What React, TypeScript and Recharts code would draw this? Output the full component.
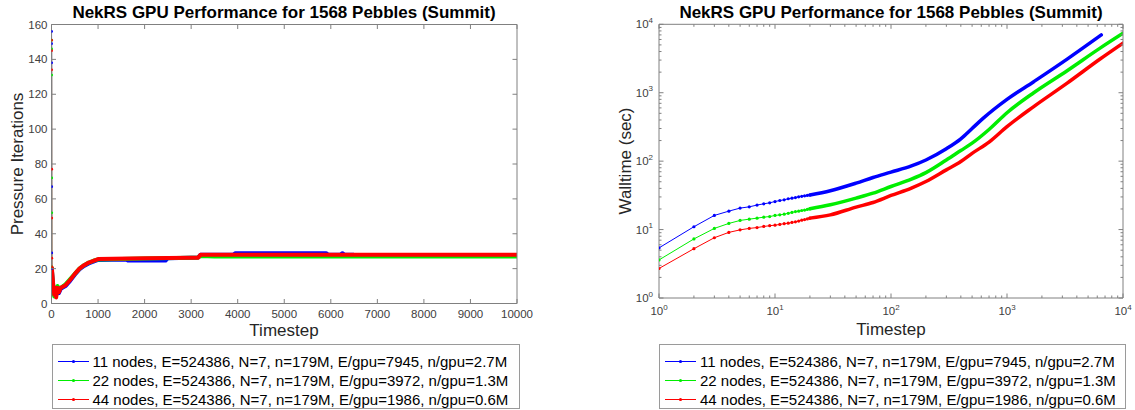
import React from "react";
import { LineChart, Line, XAxis, YAxis } from "recharts";

const FONT = "'Liberation Sans', Arial, Helvetica, sans-serif";
const AXIS = "#808080";
const TICK_TEXT = "#404040";
const BLUE = "#0000ff";
const GREEN = "#00ee00";
const RED = "#ff0000";

const TITLE = "NekRS GPU Performance for 1568 Pebbles (Summit)";
const LEGEND_LABELS = [
  "11 nodes, E=524386, N=7, n=179M, E/gpu=7945, n/gpu=2.7M",
  "22 nodes, E=524386, N=7, n=179M, E/gpu=3972, n/gpu=1.3M",
  "44 nodes, E=524386, N=7, n=179M, E/gpu=1986, n/gpu=0.6M",
];
const SERIES_COLORS = [BLUE, GREEN, RED];

// ---- left panel: pressure iterations per timestep ----
const ITER_X_TICKS = [0, 1000, 2000, 3000, 4000, 5000, 6000, 7000, 8000, 9000, 10000];
const ITER_Y_TICKS = [0, 20, 40, 60, 80, 100, 120, 140, 160];

// first few timesteps form the thin spike at x=0, the rest is the dense band
const ITER_STEP_11 = [1, 2, 3, 4, 5, 6, 20, 40, 60, 80, 100, 130, 160, 200, 300, 400, 500, 600, 700, 800, 900, 1000, 1600, 1650, 2450, 2500, 3000, 3150, 3200, 3900, 3950, 5900, 5950, 6200, 6250, 6300, 6500];
const ITER_11 = [156, 149, 138, 67, 29, 20, 15, 9, 5, 8, 4.5, 8, 6, 8.5, 10, 13, 16.5, 19.5, 21.5, 23, 24, 25, 25.3, 24.6, 24.6, 26, 26.3, 26.4, 27.9, 27.9, 28.8, 28.8, 27.9, 27.9, 28.8, 27.9, 27.9];
const ITER_SPIKE_11 = 6;

const ITER_STEP_22 = [1, 2, 3, 4, 5, 6, 20, 40, 60, 80, 100, 130, 160, 200, 300, 400, 500, 600, 700, 800, 900, 1000, 2000, 3000, 3150, 3200, 3500, 10000];
const ITER_22 = [151, 146, 131, 72, 52, 21, 14, 8, 4, 9, 5, 10, 8, 9, 11, 14, 17, 20, 22, 23.5, 24.5, 25.3, 25.8, 26.3, 26.4, 27.2, 27.0, 27.0];
const ITER_SPIKE_22 = 6;

const ITER_STEP_44 = [1, 2, 3, 4, 5, 6, 7, 20, 40, 60, 80, 100, 130, 160, 200, 300, 400, 500, 600, 700, 800, 900, 1000, 2000, 3000, 3150, 3200, 10000];
const ITER_44 = [151, 145, 134, 77, 49, 26, 21, 16, 10, 5, 9, 3.5, 9, 6.5, 9, 10.5, 13.5, 17, 20, 22, 23.5, 24.5, 25.5, 25.9, 26.2, 26.3, 27.9, 27.9];
const ITER_SPIKE_44 = 7;

// ---- right panel: cumulative walltime (log-log) ----
const LOG_TICKS = [1, 2, 3, 4, 5, 6, 7, 8, 9, 10, 20, 30, 40, 50, 60, 70, 80, 90, 100, 200, 300, 400, 500, 600, 700, 800, 900, 1000, 2000, 3000, 4000, 5000, 6000, 7000, 8000, 9000, 10000];
const LOG_MAJOR = [1, 10, 100, 1000, 10000];

const WALL_STEP_SPARSE = [1, 2, 3, 4, 5, 6, 7, 8, 9, 10, 11, 12, 13, 14, 15, 16, 17, 18, 19, 20];
const WALL_11_SPARSE = [5.4, 11.0, 16.1, 18.6, 20.6, 21.5, 22.8, 23.8, 24.6, 25.7, 26.6, 27.2, 28.2, 28.8, 29.4, 30.1, 30.6, 31.1, 31.6, 32];
const WALL_22_SPARSE = [3.6, 7.3, 10.4, 12.3, 13.6, 14.2, 14.7, 15.2, 15.5, 16.1, 16.4, 16.8, 17.3, 17.8, 18.3, 18.6, 19.0, 19.3, 19.7, 20.1];
const WALL_44_SPARSE = [2.7, 5.25, 7.6, 9.1, 9.9, 10.4, 10.7, 11.1, 11.4, 11.6, 11.9, 12.2, 12.4, 12.7, 13.0, 13.3, 13.7, 14.0, 14.3, 14.7];

const WALL_STEP_11_DENSE = [20, 30, 50, 70, 100, 150, 200, 300, 400, 500, 625, 1000, 1700, 3300, 6500];
const WALL_11_DENSE = [32, 37, 47.7, 57.6, 69, 85, 104, 152, 212, 300, 425, 800, 1450, 3100, 7000];
const WALL_STEP_DENSE = [20, 30, 50, 70, 100, 150, 200, 300, 400, 500, 700, 1000, 1700, 3300, 6300, 10000];
const WALL_22_DENSE = [20.1, 23, 28.8, 34, 42.6, 54.6, 68, 104, 143, 183, 290, 510, 1000, 2100, 4450, 7400];
const WALL_44_DENSE = [14.7, 16.4, 21.3, 24.9, 31.5, 40.4, 50.4, 74.6, 98.7, 130, 190, 320, 627, 1380, 3080, 5300];

const rows = (xs: number[], ys: number[]) => xs.map((x, i) => ({ x, y: ys[i] }));

type TickProps = { x?: number; y?: number; payload?: { value: number } };

const txt = { fontFamily: FONT, fontSize: 11.5, fill: TICK_TEXT };

function IterBottomTick({ x = 0, y = 0, payload }: TickProps) {
  return (
    <g>
      <line x1={x} x2={x} y1={y} y2={y - 4.5} stroke={AXIS} />
      <text x={x} y={y + 14} textAnchor="middle" {...txt}>{payload?.value}</text>
    </g>
  );
}

function IterLeftTick({ x = 0, y = 0, payload }: TickProps) {
  return (
    <g>
      <line x1={x} x2={x + 4.5} y1={y} y2={y} stroke={AXIS} />
      <text x={x - 4} y={y + 4} textAnchor="end" {...txt}>{payload?.value}</text>
    </g>
  );
}

function TopTick({ x = 0, y = 0 }: TickProps) {
  return <line x1={x} x2={x} y1={y} y2={y + 4.5} stroke={AXIS} />;
}

function RightTick({ x = 0, y = 0 }: TickProps) {
  return <line x1={x} x2={x - 4.5} y1={y} y2={y} stroke={AXIS} />;
}

function LogTopTick({ x = 0, y = 0, payload }: TickProps) {
  const len = LOG_MAJOR.includes(payload?.value ?? 0) ? 4.5 : 2.5;
  return <line x1={x} x2={x} y1={y} y2={y + len} stroke={AXIS} />;
}

function LogRightTick({ x = 0, y = 0, payload }: TickProps) {
  const len = LOG_MAJOR.includes(payload?.value ?? 0) ? 4.5 : 2.5;
  return <line x1={x} x2={x - len} y1={y} y2={y} stroke={AXIS} />;
}

function LogBottomTick({ x = 0, y = 0, payload }: TickProps) {
  const v = payload?.value ?? 1;
  const major = LOG_MAJOR.includes(v);
  return (
    <g>
      <line x1={x} x2={x} y1={y} y2={y - (major ? 4.5 : 2.5)} stroke={AXIS} />
      {major && (
        <text x={x} y={y + 17} textAnchor="middle" {...txt}>
          10<tspan dy={-5.5} fontSize={8}>{Math.round(Math.log10(v))}</tspan>
        </text>
      )}
    </g>
  );
}

function LogLeftTick({ x = 0, y = 0, payload }: TickProps) {
  const v = payload?.value ?? 1;
  const major = LOG_MAJOR.includes(v);
  return (
    <g>
      <line x1={x} x2={x + (major ? 4.5 : 2.5)} y1={y} y2={y} stroke={AXIS} />
      {major && (
        <text x={x - 6} y={y + 4} textAnchor="end" {...txt}>
          10<tspan dy={-5.5} fontSize={8}>{Math.round(Math.log10(v))}</tspan>
        </text>
      )}
    </g>
  );
}

function Legend({ left, width }: { left: number; width: number }) {
  return (
    <div
      style={{
        position: "absolute", left, top: 344, width, height: 63,
        border: "1px solid #9a9a9a", background: "#fff", fontFamily: FONT, fontSize: 15, color: "#000",
      }}
    >
      {LEGEND_LABELS.map((label, i) => (
        <div key={label} style={{ position: "absolute", left: 0, top: 7 + i * 19.2, height: 19, lineHeight: "19px", whiteSpace: "nowrap" }}>
          <svg width={40} height={19} style={{ position: "absolute", left: 0, top: 0 }}>
            <line x1={5} x2={36} y1={9.5} y2={9.5} stroke={SERIES_COLORS[i]} strokeWidth={1} />
            <circle cx={20.5} cy={9.5} r={1.6} fill={SERIES_COLORS[i]} />
          </svg>
          <span style={{ position: "absolute", left: 40 }}>{label}</span>
        </div>
      ))}
    </div>
  );
}

function Text({ x, y, size, bold, rotate, children }: { x: number; y: number; size: number; bold?: boolean; rotate?: boolean; children: React.ReactNode }) {
  return (
    <div
      style={{
        position: "absolute", left: x - 250, top: y - 12, width: 500, height: 24, lineHeight: "24px",
        textAlign: "center", fontFamily: FONT, fontSize: size, fontWeight: bold ? "bold" : "normal",
        color: bold ? "#000" : "#262626", whiteSpace: "nowrap",
        transform: rotate ? "rotate(-90deg)" : undefined,
      }}
    >
      {children}
    </div>
  );
}

// axes are 1px thick so that recharts still draws them; margins are reduced by that pixel
const axisCommon = { tickLine: false, axisLine: { stroke: AXIS }, interval: 0 as const, tickSize: 0, tickMargin: 0, allowDataOverflow: true };

function IterChart() {
  const series = [
    { steps: ITER_STEP_11, vals: ITER_11, cut: ITER_SPIKE_11, color: BLUE },
    { steps: ITER_STEP_22, vals: ITER_22, cut: ITER_SPIKE_22, color: GREEN },
    { steps: ITER_STEP_44, vals: ITER_44, cut: ITER_SPIKE_44, color: RED },
  ];
  return (
    <div style={{ position: "absolute", left: 0, top: 0 }}>
      <LineChart width={560} height={410} margin={{ top: 23.5, right: 42, bottom: 105.5, left: 50.5 }}>
        <XAxis xAxisId="b" type="number" dataKey="x" domain={[0, 10000]} ticks={ITER_X_TICKS} height={1} tick={IterBottomTick} {...axisCommon} />
        <XAxis xAxisId="t" orientation="top" type="number" dataKey="x" domain={[0, 10000]} ticks={ITER_X_TICKS} height={1} tick={TopTick} {...axisCommon} />
        <YAxis yAxisId="l" type="number" dataKey="y" domain={[0, 160]} ticks={ITER_Y_TICKS} width={1} tick={IterLeftTick} {...axisCommon} />
        <YAxis yAxisId="r" orientation="right" type="number" dataKey="y" domain={[0, 160]} ticks={ITER_Y_TICKS} width={1} tick={RightTick} {...axisCommon} />
        {series.map((s, i) => [
          <Line key={`s${i}`} xAxisId="b" yAxisId="l" data={rows(s.steps.slice(0, s.cut), s.vals.slice(0, s.cut))} dataKey="y"
            stroke={s.color} strokeWidth={1} dot={{ r: 1.4, fill: s.color, stroke: "none" }} isAnimationActive={false} />,
          <Line key={`b${i}`} xAxisId="b" yAxisId="l" data={rows(s.steps.slice(s.cut - 1), s.vals.slice(s.cut - 1))} dataKey="y"
            stroke={s.color} strokeWidth={4} strokeLinejoin="round" dot={false} isAnimationActive={false} />,
        ])}
      </LineChart>
    </div>
  );
}

function WallChart() {
  const series = [
    { sparse: WALL_11_SPARSE, dSteps: WALL_STEP_11_DENSE, dense: WALL_11_DENSE, color: BLUE },
    { sparse: WALL_22_SPARSE, dSteps: WALL_STEP_DENSE, dense: WALL_22_DENSE, color: GREEN },
    { sparse: WALL_44_SPARSE, dSteps: WALL_STEP_DENSE, dense: WALL_44_DENSE, color: RED },
  ];
  return (
    <div style={{ position: "absolute", left: 580, top: 0 }}>
      <LineChart width={555} height={410} margin={{ top: 23.3, right: 11, bottom: 111, left: 78 }}>
        <XAxis xAxisId="b" type="number" scale="log" dataKey="x" domain={[1, 10000]} ticks={LOG_TICKS} height={1} tick={LogBottomTick} {...axisCommon} />
        <XAxis xAxisId="t" orientation="top" type="number" scale="log" dataKey="x" domain={[1, 10000]} ticks={LOG_TICKS} height={1} tick={LogTopTick} {...axisCommon} />
        <YAxis yAxisId="l" type="number" scale="log" dataKey="y" domain={[1, 10000]} ticks={LOG_TICKS} width={1} tick={LogLeftTick} {...axisCommon} />
        <YAxis yAxisId="r" orientation="right" type="number" scale="log" dataKey="y" domain={[1, 10000]} ticks={LOG_TICKS} width={1} tick={LogRightTick} {...axisCommon} />
        {series.map((s, i) => [
          <Line key={`s${i}`} xAxisId="b" yAxisId="l" data={rows(WALL_STEP_SPARSE, s.sparse)} dataKey="y"
            stroke={s.color} strokeWidth={1} dot={{ r: 1.6, fill: s.color, stroke: "none" }} isAnimationActive={false} />,
          <Line key={`d${i}`} xAxisId="b" yAxisId="l" type="monotone" data={rows(s.dSteps, s.dense)} dataKey="y"
            stroke={s.color} strokeWidth={3.5} strokeLinecap="round" dot={false} isAnimationActive={false} />,
        ])}
      </LineChart>
    </div>
  );
}

export default function App() {
  return (
    <div style={{ position: "absolute", left: 0, top: 0, width: 1135, height: 410, background: "#fff", overflow: "hidden" }}>
      <IterChart />
      <WallChart />
      <Text x={284} y={12.5} size={17} bold>{TITLE}</Text>
      <Text x={891} y={12.5} size={17} bold>{TITLE}</Text>
      <Text x={17.5} y={164} size={17} rotate>Pressure Iterations</Text>
      <Text x={626} y={161} size={17} rotate>Walltime (sec)</Text>
      <Text x={284} y={331} size={17}>Timestep</Text>
      <Text x={891} y={329.5} size={17}>Timestep</Text>
      <Legend left={51.5} width={466} />
      <Legend left={659} width={465} />
    </div>
  );
}
